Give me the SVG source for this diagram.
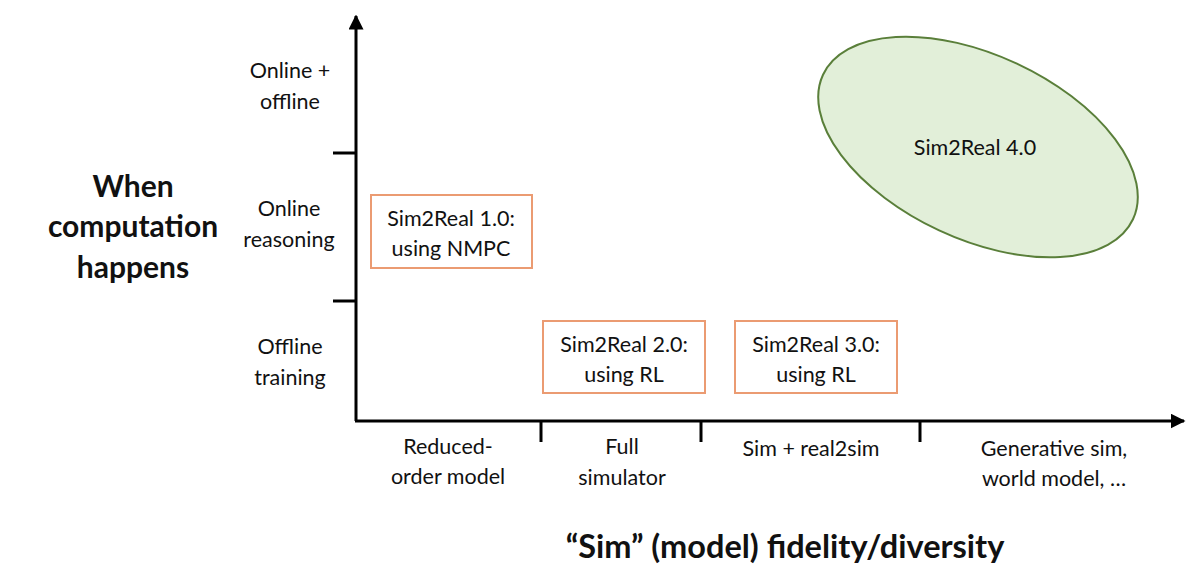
<svg xmlns="http://www.w3.org/2000/svg" width="1200" height="582" viewBox="0 0 1200 582">
<style>
  text { font-family: Lato, "Open Sans", "Liberation Sans", sans-serif; fill: #111; }
  .lab { font-size: 21.5px; text-anchor: middle; }
  .title { font-size: 30px; font-weight: bold; text-anchor: middle; }
  .box { fill: #fff; stroke: #EB9B72; stroke-width: 2; }
  .axis { stroke: #000; stroke-width: 3; fill: none; }
</style>
<defs>
  <marker id="arr" viewBox="0 0 10 10" refX="9" refY="5" markerWidth="5" markerHeight="5" orient="auto" markerUnits="strokeWidth">
    <path d="M0,0 L10,5 L0,10 z" fill="#000"/>
  </marker>
</defs>
<rect width="1200" height="582" fill="#fff"/>
<g id="connectors">
  <line class="axis" x1="356" y1="421" x2="356" y2="16" marker-end="url(#arr)"/>
  <line class="axis" x1="355" y1="421" x2="1184" y2="421" marker-end="url(#arr)"/>
  <line class="axis" x1="333" y1="153" x2="356" y2="153"/>
  <line class="axis" x1="333" y1="301" x2="356" y2="301"/>
  <line class="axis" x1="541" y1="421" x2="541" y2="442"/>
  <line class="axis" x1="701" y1="421" x2="701" y2="442"/>
  <line class="axis" x1="920" y1="421" x2="920" y2="442"/>
</g>
<g id="ylabels">
  <text class="lab" x="290" y="78">Online +</text>
  <text class="lab" x="290" y="109">offline</text>
  <text class="lab" x="289" y="216">Online</text>
  <text class="lab" x="289" y="247">reasoning</text>
  <text class="lab" x="290" y="354">Offline</text>
  <text class="lab" x="290" y="385">training</text>
</g>
<g id="ytitle">
  <text class="title" x="133" y="197">When</text>
  <text class="title" x="133" y="237">computation</text>
  <text class="title" x="133" y="278">happens</text>
</g>
<g id="xlabels">
  <text class="lab" x="448" y="454">Reduced-</text>
  <text class="lab" x="448" y="484">order model</text>
  <text class="lab" x="622" y="454">Full</text>
  <text class="lab" x="622" y="485">simulator</text>
  <text class="lab" x="811" y="456">Sim + real2sim</text>
  <text class="lab" x="1054" y="456">Generative sim,</text>
  <text class="lab" x="1054" y="486">world model, …</text>
</g>
<g id="xtitle">
  <text class="title" x="785" y="558" style="font-size:32.5px">“Sim” (model) fidelity/diversity</text>
</g>
<g id="node-sim2real1">
  <rect class="box" x="371" y="195" width="161" height="73"/>
  <text class="lab" x="451" y="226">Sim2Real 1.0:</text>
  <text class="lab" x="451" y="256">using NMPC</text>
</g>
<g id="node-sim2real2">
  <rect class="box" x="543" y="321" width="162" height="72"/>
  <text class="lab" x="624" y="352">Sim2Real 2.0:</text>
  <text class="lab" x="624" y="382">using RL</text>
</g>
<g id="node-sim2real3">
  <rect class="box" x="735" y="321" width="162" height="72"/>
  <text class="lab" x="816" y="352">Sim2Real 3.0:</text>
  <text class="lab" x="816" y="382">using RL</text>
</g>
<g id="node-sim2real4">
  <ellipse cx="978" cy="147" rx="171" ry="92" transform="rotate(25 978 147)" fill="#E2EFD9" stroke="#5A7F3A" stroke-width="2"/>
  <text class="lab" x="975" y="155">Sim2Real 4.0</text>
</g>
</svg>
